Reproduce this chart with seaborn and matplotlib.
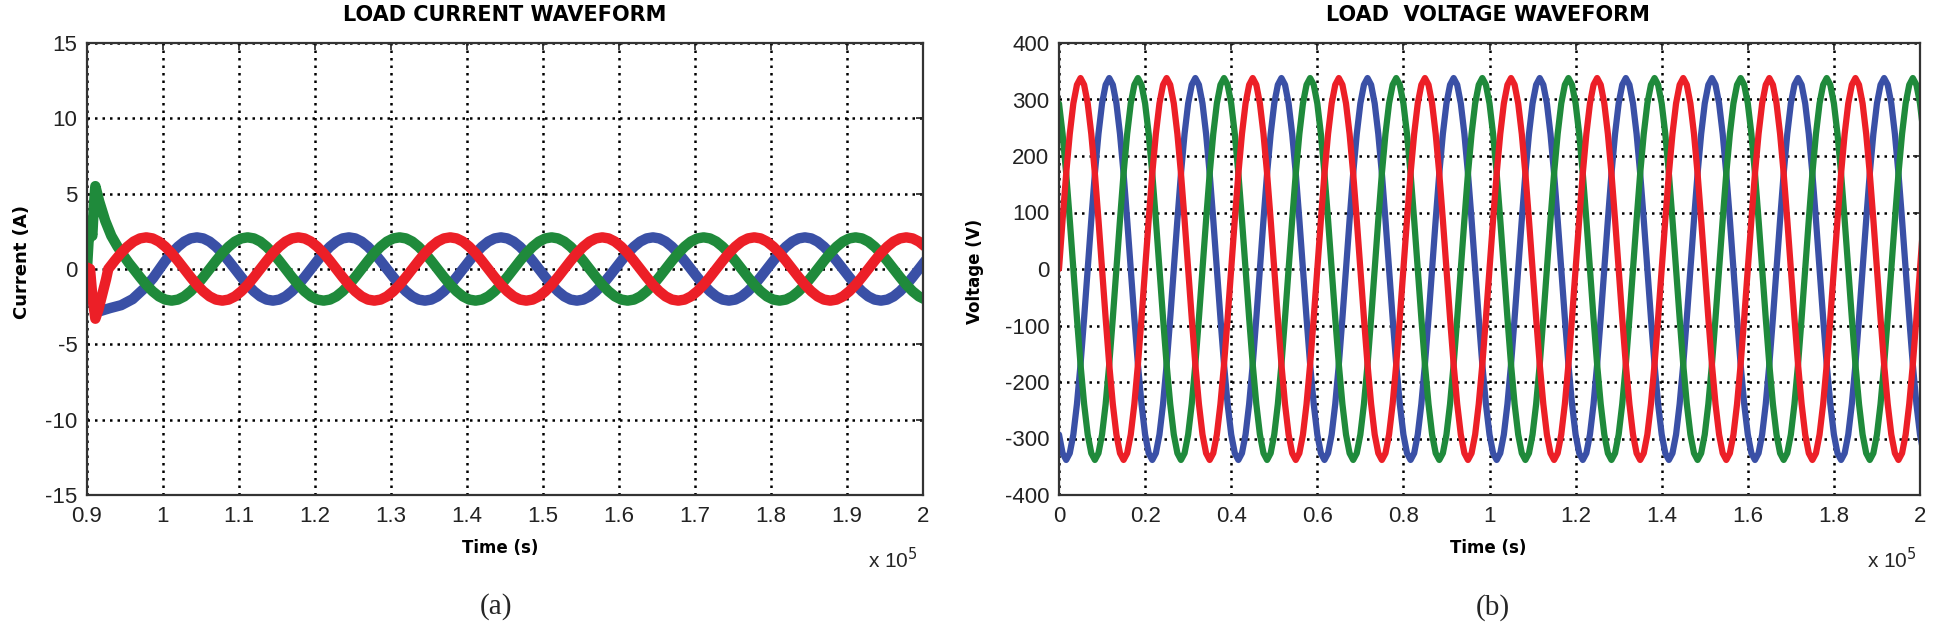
"""
Load current and load voltage waveforms (three phases), two panels side by side.
Run with: python plot.py
"""

import numpy as np
import pandas as pd
import matplotlib
matplotlib.use('Agg')
import matplotlib.pyplot as plt
import seaborn as sns

# ---- data ----
phases = ['Phase B', 'Phase C', 'Phase A']      # drawing order (A ends on top)

period = 0.2                # x 10^5 s, both panels
steps_per_cycle = 24        # one sample every 15 degrees

# one steady cycle of the load current (A), starting at a rising zero
current_cycle = [0.0, 0.54, 1.05, 1.48, 1.82, 2.03, 2.1, 2.03, 1.82, 1.48, 1.05, 0.54,
                 0.0, -0.54, -1.05, -1.48, -1.82, -2.03, -2.1, -2.03, -1.82, -1.48, -1.05, -0.54]
current_first_zero = 0.928  # first rising zero of phase A
phase_lag = {'Phase A': 0, 'Phase B': 8, 'Phase C': 16}   # in samples (120 deg each)
current_steady_from = {'Phase A': 0.928, 'Phase B': 0.995, 'Phase C': 0.961}

# start-up transient of each phase current
transient_t = {
    'Phase A': [0.900, 0.904, 0.907, 0.911, 0.915, 0.920, 0.925],
    'Phase B': [0.900, 0.904, 0.909, 0.917, 0.930, 0.945, 0.960, 0.975, 0.987],
    'Phase C': [0.900, 0.902, 0.905, 0.907, 0.909, 0.911, 0.916, 0.924, 0.932, 0.940, 0.948, 0.955],
}
transient_i = {
    'Phase A': [0.1, 0.0, -1.8, -3.3, -2.7, -1.7, -0.7],
    'Phase B': [0.0, -1.5, -2.4, -2.8, -2.6, -2.4, -2.0, -1.3, -0.6],
    'Phase C': [0.0, 1.8, 2.6, 2.2, 4.2, 5.5, 4.5, 3.2, 2.2, 1.5, 0.9, 0.4],
}

# one steady cycle of the load voltage (V), starting at a rising zero
voltage_cycle = [0, 87, 169, 239, 293, 326, 338, 326, 293, 239, 169, 87,
                 0, -87, -169, -239, -293, -326, -338, -326, -293, -239, -169, -87]
voltage_first_zero = 0.0

current_xticks = [0.9, 1.0, 1.1, 1.2, 1.3, 1.4, 1.5, 1.6, 1.7, 1.8, 1.9, 2.0]
current_yticks = [-15, -10, -5, 0, 5, 10, 15]
voltage_xticks = [0, 0.2, 0.4, 0.6, 0.8, 1.0, 1.2, 1.4, 1.6, 1.8, 2.0]
voltage_yticks = [-400, -300, -200, -100, 0, 100, 200, 300, 400]

# ---- build long tables ----
dt = period / steps_per_cycle


def steady_wave(cycle, first_zero, t_end, lag):
    n = int(round((t_end - first_zero) / dt)) + 2
    k = np.arange(n)
    t = first_zero + k * dt
    v = np.asarray(cycle, dtype=float)[(k - lag) % steps_per_cycle]
    return t, v


rows = []
for ph in phases:
    t, v = steady_wave(current_cycle, current_first_zero, 2.0, phase_lag[ph])
    keep = t >= current_steady_from[ph] - 1e-9
    t_all = np.concatenate([transient_t[ph], t[keep]])
    v_all = np.concatenate([transient_i[ph], v[keep]])
    rows.append(pd.DataFrame({'time': t_all, 'value': v_all, 'phase': ph}))
current_df = pd.concat(rows, ignore_index=True)

rows = []
for ph in phases:
    t, v = steady_wave(voltage_cycle, voltage_first_zero, 2.0, phase_lag[ph])
    rows.append(pd.DataFrame({'time': t, 'value': v, 'phase': ph}))
voltage_df = pd.concat(rows, ignore_index=True)

# ---- style ----
sns.set_style('white')
plt.rcParams['font.family'] = ['DejaVu Sans']
plt.rcParams['axes.unicode_minus'] = False

colors = {'Phase A': '#ec1f27', 'Phase B': '#3a50a6', 'Phase C': '#1f8a3b'}
tick_font = ['Liberation Sans']

W, H = 1937, 632
fig = plt.figure(figsize=(W / 100, H / 100), dpi=100)
ax1 = fig.add_axes([87 / W, 1 - 495 / H, 836 / W, 452 / H])
ax2 = fig.add_axes([1059 / W, 1 - 495 / H, 861 / W, 452 / H])


def fig_text(x, y, s, **kw):
    fig.text(x / W, 1 - y / H, s, **kw)


for ax, df, lw in [(ax1, current_df, 7.5), (ax2, voltage_df, 4.5)]:
    for ph in phases:
        sns.lineplot(data=df[df['phase'] == ph], x='time', y='value', color=colors[ph],
                     linewidth=lw, estimator=None, sort=False, ax=ax, legend=False)

setups = [
    (ax1, current_xticks, current_yticks, (0.9, 2.0), (-15, 15)),
    (ax2, voltage_xticks, voltage_yticks, (0, 2.0), (-400, 400)),
]
for ax, xt, yt, xl, yl in setups:
    ax.set_xlim(*xl)
    ax.set_ylim(*yl)
    ax.set_xticks(xt)
    ax.set_yticks(yt)
    ax.set_xticklabels([f'{v:g}' for v in xt], family=tick_font, fontsize=16)
    ax.set_yticklabels([f'{v:g}' for v in yt], family=tick_font, fontsize=16)
    ax.set_xlabel('')
    ax.set_ylabel('')
    ax.grid(True, color='black', linestyle=(0, (1, 2)), linewidth=1.8)
    ax.tick_params(direction='in', length=5, width=1.2, top=True, right=True,
                   colors='#222222')
    ax.tick_params(axis='x', pad=8)
    ax.tick_params(axis='y', pad=7)
    for sp in ax.spines.values():
        sp.set_visible(True)
        sp.set_color('#333333')
        sp.set_linewidth(1.6)

# titles, axis labels, scale notes and captions
bold = dict(fontweight='bold', ha='center', va='center', color='black')
fig_text(505, 15, 'LOAD CURRENT WAVEFORM', fontsize=15, **bold)
fig_text(1488, 15, 'LOAD  VOLTAGE WAVEFORM', fontsize=15, **bold)
fig_text(22, 262, 'Current (A)', fontsize=13, rotation=90, **bold)
fig_text(975, 271, 'Voltage (V)', fontsize=12, rotation=90, **bold)
fig_text(500, 548, 'Time (s)', fontsize=12, **bold)
fig_text(1488, 548, 'Time (s)', fontsize=12, **bold)

fig_text(918, 560, r'x 10$^5$', fontsize=15, family=tick_font, ha='right', va='center')
fig_text(1917, 560, r'x 10$^5$', fontsize=15, family=tick_font, ha='right', va='center')

fig_text(496, 607, '(a)', fontsize=21, family='Liberation Serif', ha='center', va='center')
fig_text(1493, 608, '(b)', fontsize=21, family='Liberation Serif', ha='center', va='center')

fig.savefig('out.png', dpi=100)
